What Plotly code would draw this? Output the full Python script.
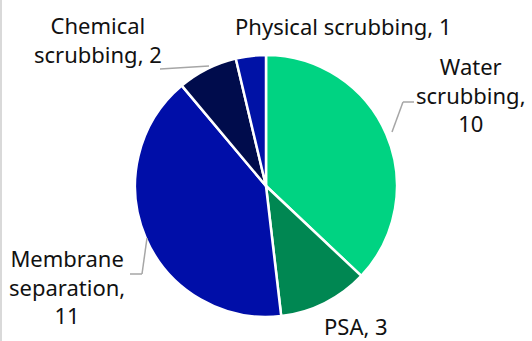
import plotly.graph_objects as go

# Biogas upgrading technologies, number of plants
labels = ["Water scrubbing", "PSA", "Membrane separation",
          "Chemical scrubbing", "Physical scrubbing"]
values = [10, 3, 11, 2, 1]
colors = ["#00d382", "#008752", "#000ea8", "#000c4c", "#0012a6"]

# how each label wraps over lines ("{v}" is replaced by the value)
label_layouts = [
    "Water<br>scrubbing,<br>{v}",
    "PSA, {v}",
    "Membrane<br>separation,<br>{v}",
    "Chemical<br>scrubbing, {v}",
    "Physical scrubbing, {v}",
]

W, H = 532, 341
cx, cy, r = 266, 186, 131


def px(x):
    return x / W


def py(y):
    return 1 - y / H


fig = go.Figure(go.Pie(
    labels=labels,
    values=values,
    sort=False,
    direction="clockwise",
    rotation=0,
    marker=dict(colors=colors, line=dict(color="white", width=2.5)),
    textinfo="none",
    showlegend=False,
    domain=dict(x=[px(cx - r), px(cx + r)], y=[py(cy + r), py(cy - r)]),
))

# label anchor positions (pixel centres) for each slice
label_pos = [(471, 95), (356, 326), (67, 286), (98, 39), (343, 26)]
font = dict(family="Noto Sans", size=22, color="#111111")
for lay, v, (x, y) in zip(label_layouts, values, label_pos):
    fig.add_annotation(
        x=px(x), y=py(y), xref="paper", yref="paper",
        text=lay.format(v=v), showarrow=False, font=font,
        xanchor="center", yanchor="middle", align="center",
    )

# leader lines
leaders = [
    [(392, 132), (403, 102), (414, 102)],
    [(147, 238), (142, 274), (130, 274)],
    [(209, 66), (160, 69)],
]
for pts in leaders:
    for (x0, y0), (x1, y1) in zip(pts[:-1], pts[1:]):
        fig.add_shape(type="line", xref="paper", yref="paper",
                      x0=px(x0), y0=py(y0), x1=px(x1), y1=py(y1),
                      line=dict(color="#a6a6a6", width=1.5))

# thin frame edge on the left
fig.add_shape(type="line", xref="paper", yref="paper",
              x0=px(1), y0=0, x1=px(1), y1=1,
              line=dict(color="#d9d9d9", width=2))

fig.update_layout(
    width=W, height=H,
    margin=dict(l=0, r=0, t=0, b=0),
    paper_bgcolor="white",
    plot_bgcolor="white",
)

fig.write_html("out.html")
